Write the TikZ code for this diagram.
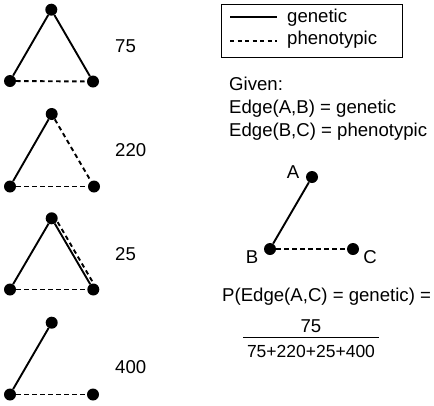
\documentclass[tikz,border=0pt]{standalone}
\usepackage{fontspec}
\setmainfont{Liberation Sans}
\begin{document}
\begin{tikzpicture}[x=1pt,y=-1pt,
  dot/.style={circle,fill=black,inner sep=0pt,minimum size=12pt},
  gen/.style={line width=1.9pt},
  phen/.style={line width=1.9pt,dash pattern=on 4.5pt off 3.5pt},
  lbl/.style={inner sep=0pt,anchor=base west,font=\fontsize{18.6}{22}\selectfont},
  clbl/.style={inner sep=0pt,anchor=center,font=\fontsize{18.6}{22}\selectfont}]
\useasboundingbox (0,0) rectangle (434,405);
% Triangle 1
\node[dot] (a1) at (51.3,9.7) {};
\node[dot] (b1) at (10,81) {};
\node[dot] (c1) at (93,81.5) {};
\draw[gen] (a1) -- (b1);
\draw[gen] (a1) -- (c1);
\draw[phen] (b1) -- (c1);
\node[lbl] (n1) at (115,52) {75};
% Triangle 2
\node[dot] (a2) at (51.7,114) {};
\node[dot] (b2) at (10,186.5) {};
\node[dot] (c2) at (94,186.5) {};
\draw[gen] (a2) -- (b2);
\draw[phen] (a2) -- (c2);
\draw[phen] (b2) -- (c2);
\node[lbl] (n2) at (115,156) {220};
% Triangle 3
\node[dot] (a3) at (51.7,218.3) {};
\node[dot] (b3) at (10,289.5) {};
\node[dot] (c3) at (93.3,289.5) {};
\draw[gen] (a3) -- (b3);
\draw[gen] (a3) -- (c3);
\draw[phen,transform canvas={xshift=2.8pt,yshift=1.6pt}] (a3) -- (c3);
\draw[phen] (b3) -- (c3);
\node[lbl] (n3) at (115,260) {25};
% Triangle 4
\node[dot] (a4) at (51.7,322.7) {};
\node[dot] (b4) at (10,394.5) {};
\node[dot] (c4) at (93,394.5) {};
\draw[gen] (a4) -- (b4);
\draw[phen] (b4) -- (c4);
\node[lbl] (n4) at (115,373) {400};
% Legend
\node[draw,line width=1.1pt,inner sep=0pt,minimum width=181pt,minimum height=53pt,anchor=north west] (legend) at (221,4) {};
\coordinate (ls1) at (230,17);
\coordinate (le1) at (277,17);
\coordinate (ls2) at (230,41);
\coordinate (le2) at (277,41);
\draw[line width=1.6pt] (ls1) -- (le1);
\draw[line width=1.6pt,dash pattern=on 4pt off 3.5pt] (ls2) -- (le2);
\node[lbl] (tg) at (287,22) {genetic};
\node[lbl] (tp) at (287,44) {phenotypic};
% Given
\node[lbl] (given) at (229,90) {Given:};
\node[lbl] (eab) at (229,113) {Edge(A,B) = genetic};
\node[lbl] (ebc) at (229,136) {Edge(B,C) = phenotypic};
% Right graph
\node[dot] (A) at (312,177) {};
\node[dot] (B) at (270,249) {};
\node[dot] (C) at (353,249) {};
\draw[gen] (A) -- (B);
\draw[phen] (B) -- (C);
\node[clbl] (lA) at (293,172) {A};
\node[clbl] (lB) at (252,257) {B};
\node[clbl] (lC) at (370,257) {C};
% Probability
\node[lbl] (prob) at (222,301) {P(Edge(A,C) = genetic) =};
\node[inner sep=0pt,anchor=base,font=\fontsize{18.6}{22}\selectfont] (num) at (311,332) {75};
\node[inner sep=0pt,anchor=base,font=\fontsize{17.5}{22}\selectfont] (den) at (311,357) {75+220+25+400};
\coordinate (rs) at (243,337.5);
\coordinate (re) at (379,337.5);
\draw[line width=1pt] (rs) -- (re);
\end{tikzpicture}
\end{document}
